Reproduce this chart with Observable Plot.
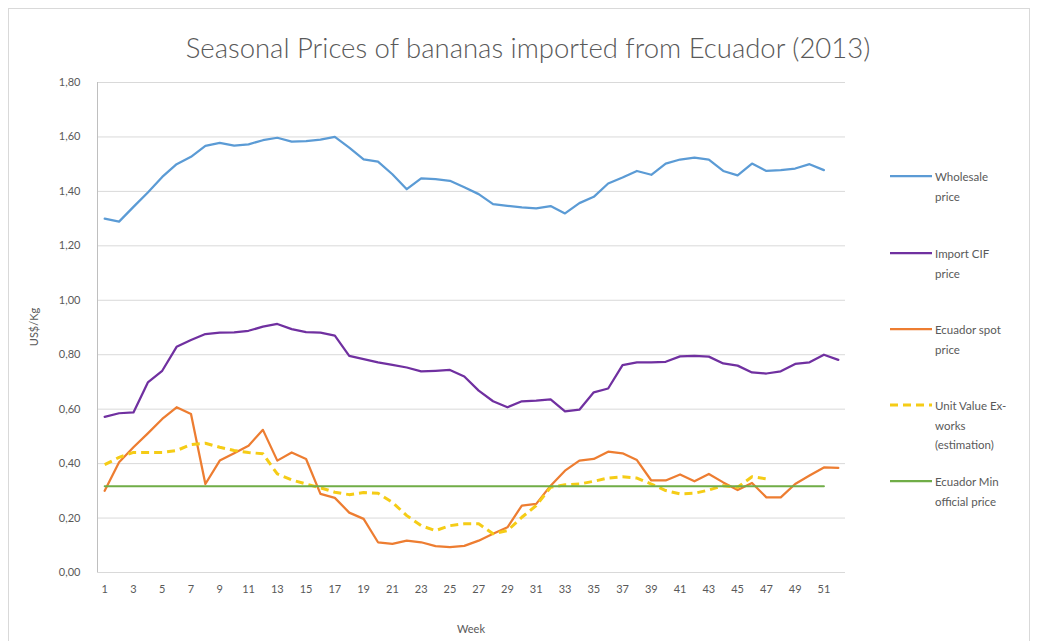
<!DOCTYPE html>
<html><head><meta charset="utf-8">
<script src="https://cdn.jsdelivr.net/npm/d3@7"></script>
<script src="https://cdn.jsdelivr.net/npm/@observablehq/plot@0.6"></script>
<style>
body{margin:0;background:#fff;font-family:Lato,"Open Sans",sans-serif;}
#wrap{position:relative;width:1037px;height:641px;overflow:hidden;background:#fff;}
#frame{position:absolute;left:8px;top:8px;width:1022px;height:650px;border:1px solid #d9d9d9;box-sizing:border-box;}
#title{position:absolute;left:0;width:1056px;top:31px;text-align:center;font-size:27.5px;color:#595959;font-weight:300;white-space:nowrap;}
#chart{position:absolute;left:0;top:0;}
#ylab{position:absolute;left:33px;top:327px;transform:translate(-50%,-50%) rotate(-90deg);font-size:11px;color:#595959;white-space:nowrap;}
#xlab{position:absolute;left:471px;top:628px;transform:translate(-50%,-50%);font-size:11px;color:#595959;}
.leg{position:absolute;left:890px;font-size:11.5px;color:#595959;line-height:19.5px;}
.leg svg{position:absolute;left:0;top:9px;overflow:visible;}
.leg span{position:absolute;left:45px;top:0;white-space:nowrap;}
</style></head>
<body>
<div id="wrap">
  <div id="frame"></div>
  <div id="chart"></div>
  <div id="title">Seasonal Prices of bananas imported from Ecuador (2013)</div>
  <div id="ylab">US$/Kg</div>
  <div id="xlab">Week</div>
  <div id="legend"></div>
</div>
<script>
const weeks = [1,2,3,4,5,6,7,8,9,10,11,12,13,14,15,16,17,18,19,20,21,22,23,24,25,26,27,28,29,30,31,32,33,34,35,36,37,38,39,40,41,42,43,44,45,46,47,48,49,50,51,52];
const xTickLabels = [1,3,5,7,9,11,13,15,17,19,21,23,25,27,29,31,33,35,37,39,41,43,45,47,49,51];
const yTickValues = [0,0.2,0.4,0.6,0.8,1.0,1.2,1.4,1.6,1.8];

const seriesNames = ["Wholesale price","Import CIF price","Ecuador spot price","Unit Value Ex-works (estimation)","Ecuador Min official price"];
const legendLabels = [["Wholesale","price"],["Import CIF","price"],["Ecuador spot","price"],["Unit Value Ex-","works","(estimation)"],["Ecuador Min","official price"]];
const seriesColors = ["#5b9bd5","#7030a0","#ed7d31","#f5cc16","#70ad47"];

const wholesale = [1.30,1.289,1.343,1.396,1.453,1.50,1.527,1.567,1.578,1.568,
  1.573,1.588,1.597,1.583,1.585,1.59,1.60,1.561,1.518,1.509,
  1.463,1.408,1.448,1.445,1.439,1.415,1.39,1.353,1.347,1.341,
  1.338,1.346,1.319,1.357,1.38,1.429,1.451,1.475,1.461,1.502,
  1.517,1.524,1.517,1.475,1.459,1.502,1.475,1.478,1.484,1.50,1.478];
const importCIF = [0.572,0.585,0.588,0.698,0.741,0.829,0.854,0.876,0.881,0.882,
  0.888,0.903,0.913,0.894,0.883,0.881,0.87,0.796,0.784,0.772,
  0.763,0.753,0.739,0.741,0.744,0.72,0.668,0.629,0.607,0.629,
  0.631,0.636,0.592,0.598,0.662,0.676,0.762,0.772,0.772,0.774,
  0.794,0.796,0.793,0.768,0.76,0.735,0.731,0.739,0.766,0.772,0.80,0.781];
const spotPrice = [0.30,0.405,0.46,0.511,0.564,0.607,0.582,0.325,0.411,0.438,
  0.466,0.524,0.411,0.441,0.417,0.289,0.274,0.22,0.197,0.111,
  0.105,0.117,0.111,0.097,0.093,0.098,0.117,0.142,0.166,0.246,
  0.252,0.319,0.374,0.411,0.417,0.444,0.438,0.413,0.338,0.338,
  0.36,0.335,0.362,0.331,0.303,0.329,0.276,0.276,0.325,0.356,0.386,0.384];
const unitValue = [0.396,0.423,0.441,0.441,0.441,0.448,0.47,0.475,0.46,0.448,
  0.441,0.436,0.362,0.34,0.325,0.311,0.295,0.286,0.294,0.291,
  0.258,0.209,0.172,0.154,0.172,0.179,0.179,0.142,0.154,0.203,
  0.246,0.313,0.322,0.325,0.335,0.347,0.352,0.347,0.325,0.301,
  0.289,0.291,0.303,0.319,0.313,0.352,0.344];
const minOfficial = [0.317,0.317,0.317,0.317,0.317,0.317,0.317,0.317,0.317,0.317,
  0.317,0.317,0.317,0.317,0.317,0.317,0.317,0.317,0.317,0.317,
  0.317,0.317,0.317,0.317,0.317,0.317,0.317,0.317,0.317,0.317,
  0.317,0.317,0.317,0.317,0.317,0.317,0.317,0.317,0.317,0.317,
  0.317,0.317,0.317,0.317,0.317,0.317,0.317,0.317,0.317,0.317,0.317];

const allSeries = [wholesale, importCIF, spotPrice, unitValue, minOfficial];
const rows = [];
allSeries.forEach((vals, si) => vals.forEach((v, i) => rows.push({series: seriesNames[si], week: weeks[i], value: v})));
const bySeries = s => rows.filter(r => r.series === s);

const fmt = d => d.toFixed(2).replace(".", ",");

const lineMark = (si, extra = {}) => Plot.line(bySeries(seriesNames[si]), {
  x: "week", y: "value", stroke: seriesColors[si], strokeWidth: 2.25,
  strokeLinejoin: "round", strokeLinecap: "round", ...extra
});

const chart = Plot.plot({
  width: 1037, height: 641,
  marginLeft: 97, marginRight: 192, marginTop: 82, marginBottom: 69,
  style: {fontFamily: "Lato, 'Open Sans', sans-serif", fontSize: "11px", color: "#595959", background: "transparent"},
  x: {domain: [0.5, 52.5], label: null},
  y: {domain: [0, 1.8], label: null},
  marks: [
    Plot.gridY(yTickValues, {stroke: "#d9d9d9", strokeOpacity: 1}),
    Plot.ruleX([0.5], {y1: 0, y2: 1.8, stroke: "#bfbfbf"}),
    Plot.axisY(yTickValues, {tickSize: 0, tickPadding: 17, tickFormat: fmt, label: null, fill: "#595959"}),
    Plot.axisX(xTickLabels, {tickSize: 0, tickPadding: 13, tickFormat: d => String(d), label: null, fill: "#595959"}),
    lineMark(0),
    lineMark(1),
    lineMark(2),
    lineMark(3, {strokeWidth: 3, strokeDasharray: "8,5", strokeLinecap: "butt"}),
    lineMark(4, {strokeWidth: 2})
  ]
});
document.getElementById("chart").appendChild(chart);

const legendTops = [167, 244, 320, 396, 472];
const leg = document.getElementById("legend");
legendLabels.forEach((lines, i) => {
  const d = document.createElement("div");
  d.className = "leg";
  d.style.top = legendTops[i] + "px";
  const dash = i === 3 ? 'stroke-dasharray="8,5" stroke-width="3"' : 'stroke-width="2.25"';
  d.innerHTML = `<svg width="42" height="2"><line x1="0" x2="42" y1="0" y2="0" stroke="${seriesColors[i]}" ${dash}/></svg><span>${lines.join("<br>")}</span>`;
  leg.appendChild(d);
});
</script>
</body></html>
